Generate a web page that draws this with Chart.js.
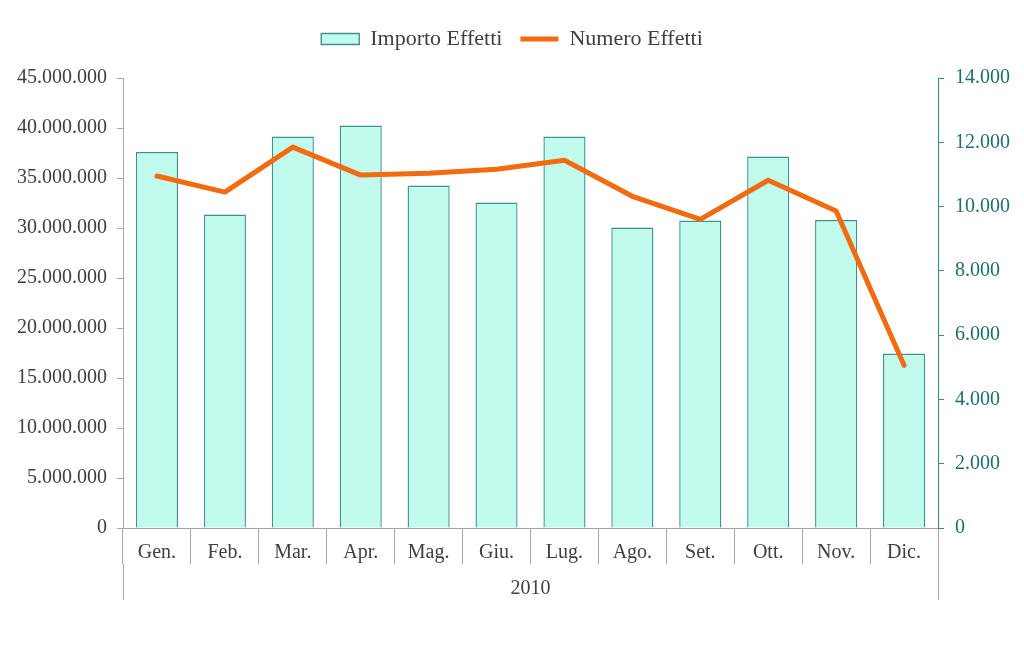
<!DOCTYPE html>
<html><head><meta charset="utf-8">
<script src="https://cdn.jsdelivr.net/npm/chart.js@4/dist/chart.umd.min.js"></script>
<style>html,body{margin:0;padding:0;background:#fff}#wrap{width:1024px;height:664px}</style>
</head><body><div id="wrap"><canvas id="c" width="1024" height="664"></canvas></div>
<script>
const categories = ['Gen.','Feb.','Mar.','Apr.','Mag.','Giu.','Lug.','Ago.','Set.','Ott.','Nov.','Dic.'];
const groupLabels = ['2010'];
const importoEffetti = [37600000,31350000,39150000,40250000,34250000,32550000,39150000,30050000,30750000,37150000,30800000,17450000];
const numeroEffetti = [10950,10450,11850,10980,11040,11160,11440,10320,9600,10820,9860,5060];
const leftTicks = [0,5000000,10000000,15000000,20000000,25000000,30000000,35000000,40000000,45000000];
const rightTicks = [0,2000,4000,6000,8000,10000,12000,14000];

const fmt = v => String(Math.round(v)).replace(/\B(?=(\d{3})+(?!\d))/g,'.');
const serif = "'Liberation Serif','DejaVu Serif',serif";
Chart.defaults.font.family = serif;

const legendGap = {
  id:'legendGap',
  beforeInit(chart){
    const orig = chart.legend.fit;
    chart.legend.fit = function(){ orig.bind(chart.legend)(); this.height += 18; };
  }
};

new Chart(document.getElementById('c'), {
  plugins:[legendGap],
  data: {
    labels: categories,
    datasets: [
      {type:'bar', label:'Importo Effetti', data: importoEffetti, yAxisID:'y', xAxisID:'x',
       backgroundColor:'#c0fbee', borderColor:'#3f9290', borderWidth:1.4,
       barPercentage:0.62, categoryPercentage:1, order:2, pointStyle:'rect'},
      {type:'line', label:'Numero Effetti', data: numeroEffetti, yAxisID:'y1', xAxisID:'x',
       borderColor:'#f26b0f', backgroundColor:'#f26b0f', borderWidth:5, pointRadius:0,
       tension:0, order:1, pointStyle:'line', borderCapStyle:'round', borderJoinStyle:'round'}
    ]
  },
  options: {
    responsive:false, animation:false,
    layout:{padding:{top:10,left:0,right:0,bottom:0}},
    plugins:{
      tooltip:{enabled:false},
      legend:{position:'top', labels:{font:{size:22,family:serif}, color:'#404040',
        usePointStyle:true, pointStyleWidth:38, boxHeight:11, padding:18,
        sort:(a,b)=>a.datasetIndex-b.datasetIndex}}
    },
    scales:{
      x:{type:'category', position:'bottom', offset:true,
        grid:{offset:true, drawOnChartArea:false, tickLength:36, color:'#a6a6a6', lineWidth:1},
        border:{color:'#a6a6a6'},
        ticks:{font:{size:20,family:serif}, color:'#404040', padding:-23, maxRotation:0},
        afterFit:s=>{s.height=36;}},
      x2:{type:'category', position:'bottom', labels:groupLabels, offset:true,
        grid:{offset:true, drawOnChartArea:false, tickLength:36, color:'#a6a6a6', lineWidth:1},
        border:{display:false},
        ticks:{font:{size:20,family:serif}, color:'#404040', padding:-23},
        afterFit:s=>{s.height=100;}},
      y:{type:'linear', position:'left', min:0, max:45000000,
        afterBuildTicks:s=>{s.ticks=leftTicks.map(v=>({value:v}));},
        grid:{drawOnChartArea:false, tickLength:6, color:'#a6a6a6'},
        border:{color:'#a6a6a6'},
        ticks:{font:{size:20,family:serif}, color:'#404040', padding:10, callback:v=>fmt(v)},
        afterFit:s=>{s.width=123;}},
      y1:{type:'linear', position:'right', min:0, max:14000,
        afterBuildTicks:s=>{s.ticks=rightTicks.map(v=>({value:v}));},
        grid:{drawOnChartArea:false, tickLength:6, color:'#2f8a87'},
        border:{color:'#2f8a87'},
        ticks:{font:{size:20,family:serif}, color:'#1f6e69', padding:11, callback:v=>fmt(v)},
        afterFit:s=>{s.width=86;}}
    }
  }
});
</script></body></html>
